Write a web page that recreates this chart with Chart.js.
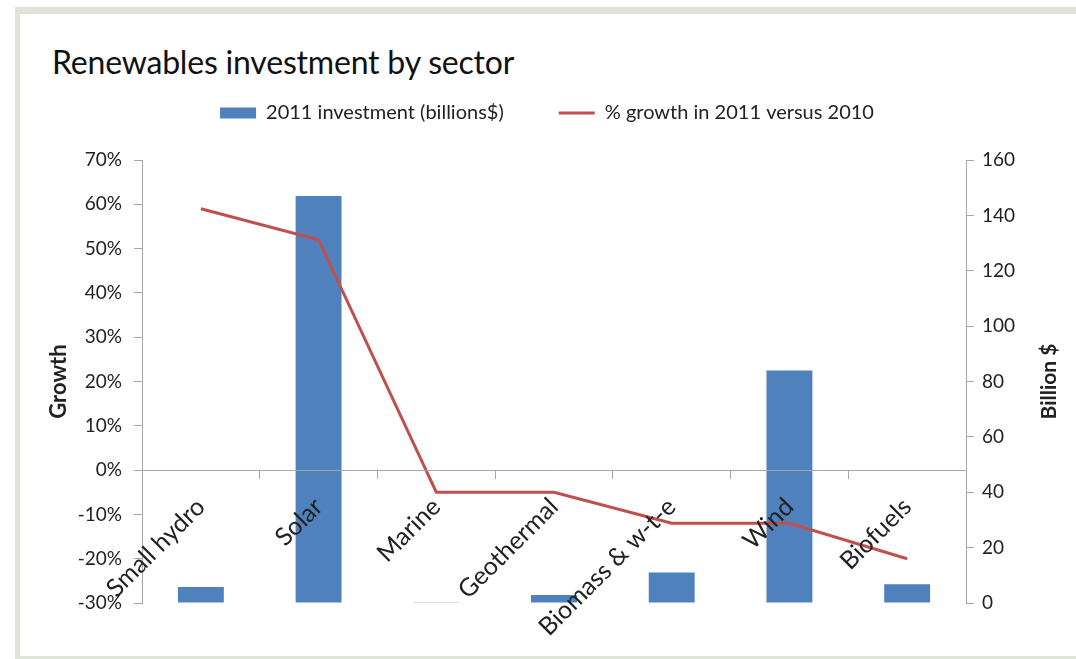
<!DOCTYPE html>
<html>
<head>
<meta charset="utf-8">
<title>Renewables investment by sector</title>
<script src="https://cdn.jsdelivr.net/npm/chart.js@4.4.1/dist/chart.umd.min.js"></script>
<style>
  html, body { margin: 0; padding: 0; background: #fff; }
  body { width: 1076px; height: 659px; position: relative; overflow: hidden; font-family: Lato, 'Open Sans', sans-serif; }
  .frame { position: absolute; left: 15px; top: 7px; right: 0; bottom: 0; background: #dfe3d8; }
  .panel { position: absolute; left: 20px; top: 14px; right: 0; bottom: 3px; background: #fff; }
  h1 { position: absolute; left: 52px; top: 42px; margin: 0; font-weight: normal; font-size: 32px; line-height: 40px; color: #111; letter-spacing: -0.2px; }
  .chart-box { position: absolute; left: 0; top: 0; width: 1076px; height: 659px; }
</style>
</head>
<body>
<div class="frame"></div>
<div class="panel"></div>
<h1>Renewables investment by sector</h1>
<div class="chart-box"><canvas id="sectorChart"></canvas></div>

<script>
const sectors = ['Small hydro', 'Solar', 'Marine', 'Geothermal', 'Biomass & w-t-e', 'Wind', 'Biofuels'];
const investment = [5.8, 147, 0.3, 2.9, 11, 84, 6.8];   // billion $
const growth = [59, 52, -5, -5, -12, -12, -20];          // % change vs 2010

const growthAxis = { min: -30, max: 70, step: 10 };
const billionAxis = { min: 0, max: 160, step: 20 };

const BLUE = '#4f81bd';
const RED = '#c0504d';
const AXIS_GREY = '#a6a6a6';
const TEXT = '#222';
const FONT = 'Lato';

// extra room between the legend and the plot
const legendSpacing = {
    id: 'legendSpacing',
    beforeInit(chart) {
        const fit = chart.legend.fit;
        chart.legend.fit = function () {
            fit.bind(chart.legend)();
            this.height += 27;
        };
    }
};

// right axis title reads bottom-to-top like the left one
const rightAxisTitle = {
    id: 'rightAxisTitle',
    afterDraw(chart, args, opts) {
        const scale = chart.scales.y1;
        const ctx = chart.ctx;
        ctx.save();
        ctx.translate(scale.right + opts.offset, (scale.top + scale.bottom) / 2);
        ctx.rotate(-Math.PI / 2);
        ctx.font = `bold ${opts.size}px ${FONT}`;
        ctx.fillStyle = TEXT;
        ctx.textAlign = 'center';
        ctx.textBaseline = 'middle';
        ctx.fillText(opts.text, 0, 0);
        ctx.restore();
    }
};

Chart.defaults.font.family = FONT;
Chart.defaults.color = TEXT;

new Chart(document.getElementById('sectorChart'), {
    data: {
        labels: sectors,
        datasets: [
            {
                type: 'bar',
                label: '2011 investment (billions$)',
                data: investment,
                yAxisID: 'y1',
                backgroundColor: BLUE,
                borderWidth: 0,
                pointStyle: 'rect',
                categoryPercentage: 1,
                barPercentage: 0.39,
                order: 1
            },
            {
                type: 'line',
                label: '% growth in 2011 versus 2010',
                data: growth,
                yAxisID: 'y',
                borderColor: RED,
                borderWidth: 3,
                pointRadius: 0,
                pointStyle: 'line',
                pointBorderColor: RED,
                pointBorderWidth: 3,
                tension: 0,
                order: 0
            }
        ]
    },
    options: {
        responsive: true,
        maintainAspectRatio: false,
        animation: false,
        layout: {
            padding: { top: 48, left: 46, right: 28, bottom: 56 }
        },
        plugins: {
            tooltip: { enabled: false },
            legend: {
                position: 'top',
                labels: {
                    usePointStyle: true,
                    pointStyleWidth: 36,
                    boxHeight: 11,
                    padding: 55,
                    color: TEXT,
                    font: { size: 20 },
                    sort: (a, b) => a.datasetIndex - b.datasetIndex
                }
            },
            rightAxisTitle: { text: 'Billion $', size: 21, offset: 1 }
        },
        scales: {
            x: {
                type: 'category',
                position: { y: 0 },
                offset: true,
                grid: {
                    offset: true,
                    drawOnChartArea: false,
                    drawTicks: true,
                    tickLength: 8,
                    color: AXIS_GREY
                },
                border: { color: AXIS_GREY, width: 1, z: 1 },
                ticks: {
                    minRotation: 45,
                    maxRotation: 45,
                    autoSkip: false,
                    padding: 14,
                    z: 1,
                    color: TEXT,
                    font: { size: 25 }
                }
            },
            y: {
                type: 'linear',
                position: 'left',
                min: growthAxis.min,
                max: growthAxis.max,
                afterFit: scale => { scale.width = 96; },
                grid: {
                    drawOnChartArea: false,
                    tickLength: 8,
                    color: AXIS_GREY
                },
                border: { color: AXIS_GREY, width: 1 },
                ticks: {
                    stepSize: growthAxis.step,
                    padding: 12,
                    color: TEXT,
                    font: { size: 19 },
                    callback: v => v + '%'
                },
                title: {
                    display: true,
                    text: 'Growth',
                    color: TEXT,
                    font: { size: 22, weight: 'bold' },
                    padding: { top: 0, bottom: 0 }
                }
            },
            y1: {
                type: 'linear',
                position: 'right',
                min: billionAxis.min,
                max: billionAxis.max,
                afterFit: scale => { scale.width = 82; },
                grid: {
                    drawOnChartArea: false,
                    tickLength: 8,
                    color: AXIS_GREY
                },
                border: { color: AXIS_GREY, width: 1 },
                ticks: {
                    stepSize: billionAxis.step,
                    padding: 8,
                    color: TEXT,
                    font: { size: 19 }
                }
            }
        }
    },
    plugins: [legendSpacing, rightAxisTitle]
});
</script>
</body>
</html>
